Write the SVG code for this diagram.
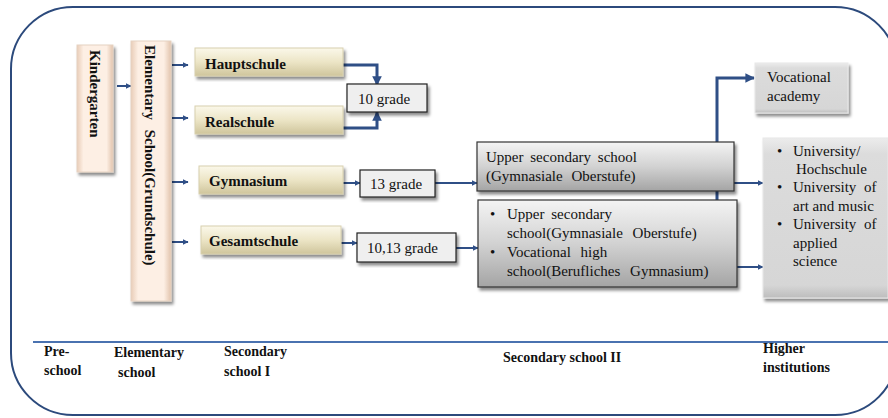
<svg xmlns="http://www.w3.org/2000/svg" width="888" height="418" viewBox="0 0 888 418">
<defs>
<linearGradient id="beige" x1="0" y1="0" x2="0" y2="1">
<stop offset="0" stop-color="#fbf8ea"/><stop offset="0.5" stop-color="#ece5c6"/><stop offset="1" stop-color="#cfc59c"/>
</linearGradient>
<linearGradient id="peach" x1="0" y1="0" x2="1" y2="0">
<stop offset="0" stop-color="#e9cdb8"/><stop offset="0.18" stop-color="#fdefe4"/><stop offset="0.82" stop-color="#fdefe4"/><stop offset="1" stop-color="#e2c4ad"/>
</linearGradient>
<linearGradient id="steel" x1="0" y1="0" x2="0" y2="1">
<stop offset="0" stop-color="#f4f4f4"/><stop offset="0.5" stop-color="#d2d2d2"/><stop offset="1" stop-color="#a4a4a4"/>
</linearGradient>
<linearGradient id="lgray" x1="0" y1="0" x2="0" y2="1">
<stop offset="0" stop-color="#ececec"/><stop offset="0.1" stop-color="#dcdcdc"/><stop offset="0.92" stop-color="#d6d6d6"/><stop offset="1" stop-color="#bdbdbd"/>
</linearGradient>
<filter id="sh" x="-20%" y="-20%" width="140%" height="140%">
<feDropShadow dx="2" dy="3" stdDeviation="1.5" flood-color="#000" flood-opacity="0.45"/>
</filter>
<marker id="ah" viewBox="0 0 10 10" refX="9" refY="5" markerWidth="3" markerHeight="3" orient="auto" markerUnits="strokeWidth">
<path d="M0,0 L10,5 L0,10 z" fill="#2f4f86"/>
</marker>
<marker id="ahb" viewBox="0 0 10 10" refX="9" refY="5" markerWidth="3.2" markerHeight="3.2" orient="auto" markerUnits="strokeWidth">
<path d="M0,0 L10,5 L0,10 z" fill="#2f4f86"/>
</marker>
<style>
.lbl{font-family:"Liberation Serif","Times New Roman",serif;font-size:15px;fill:#111}
.b{font-weight:bold}
.foot{font-family:"Liberation Serif","Times New Roman",serif;font-size:14px;font-weight:bold;fill:#111}
.beige{fill:url(#beige);stroke:#d8d0ae;stroke-width:1;filter:url(#sh)}
.peach{fill:url(#peach);stroke:#e6d2c2;stroke-width:1;filter:url(#sh)}
.grade{fill:#efefef;stroke:#222;stroke-width:1.2;filter:url(#sh)}
.steel{fill:url(#steel);stroke:#333;stroke-width:1.2;filter:url(#sh)}
.lg{fill:url(#lgray);stroke:#e8e8e8;stroke-width:1;filter:url(#sh)}
.c{fill:none;stroke:#2f4f86;stroke-width:2.2}
.cs{fill:none;stroke:#2f4f86;stroke-width:2;marker-end:url(#ah)}
.ct{fill:none;stroke:#2f4f86;stroke-width:3;marker-end:url(#ahb)}
</style>
</defs>
<rect x="11" y="7" width="886" height="408" rx="62" ry="62" fill="#fff" stroke="#2c4a7c" stroke-width="2"/>
<line x1="33" y1="342" x2="888" y2="342" stroke="#4a72b0" stroke-width="2"/>

<g id="connectors">
<path class="cs" d="M117,86 H131"/>
<path class="cs" d="M172,65 H188"/>
<path class="cs" d="M172,118 H188"/>
<path class="cs" d="M172,182 H188"/>
<path class="cs" d="M172,242 H188"/>
<path class="ct" d="M343,65 H377 V85"/>
<path class="ct" d="M343,128 H377 V112"/>
<path class="cs" d="M343,183 H360"/>
<path class="cs" d="M341,243 H357"/>
<path class="cs" d="M435,183 H477"/>
<path class="cs" d="M456,248 H478"/>
<path class="cs" d="M734,183 H763"/>
<path class="cs" d="M737,267 H763"/>
<path class="ct" d="M717,205 V78 H754"/>
</g>

<g id="kindergarten">
<rect class="peach" x="77" y="45" width="36" height="127"/>
<text class="lbl b" transform="translate(90,50) rotate(90)">Kindergarten</text>
</g>
<g id="elementary">
<rect class="peach" x="131" y="41" width="40" height="260"/>
<text class="lbl b" transform="translate(145,45) rotate(90)" word-spacing="6">Elementary School(Grundschule)</text>
</g>
<g id="hauptschule">
<rect class="beige" x="195" y="48" width="148" height="28"/>
<text class="lbl b" x="205" y="69">Hauptschule</text>
</g>
<g id="realschule">
<rect class="beige" x="195" y="106" width="148" height="28"/>
<text class="lbl b" x="205" y="127">Realschule</text>
</g>
<g id="gymnasium">
<rect class="beige" x="199" y="166" width="144" height="28"/>
<text class="lbl b" x="209" y="186">Gymnasium</text>
</g>
<g id="gesamtschule">
<rect class="beige" x="201" y="226" width="140" height="28"/>
<text class="lbl b" x="209" y="246">Gesamtschule</text>
</g>
<g id="grade10">
<rect class="grade" x="347" y="84" width="80" height="28"/>
<text class="lbl" x="358" y="104">10 grade</text>
</g>
<g id="grade13">
<rect class="grade" x="360" y="170" width="75" height="27"/>
<text class="lbl" x="370" y="189">13 grade</text>
</g>
<g id="grade1013">
<rect class="grade" x="357" y="233" width="99" height="29"/>
<text class="lbl" x="367" y="253">10,13 grade</text>
</g>
<g id="upper1">
<rect class="steel" x="477" y="142" width="257" height="49"/>
<text class="lbl" x="486" y="162" word-spacing="3">Upper secondary school</text>
<text class="lbl" x="486" y="181" word-spacing="5">(Gymnasiale Oberstufe)</text>
</g>
<g id="upper2">
<rect class="steel" x="478" y="200" width="259" height="87"/>
<text class="lbl" x="490" y="219">•</text>
<text class="lbl" x="507" y="219" word-spacing="3">Upper secondary</text>
<text class="lbl" x="507" y="238" word-spacing="6">school(Gymnasiale Oberstufe)</text>
<text class="lbl" x="490" y="257">•</text>
<text class="lbl" x="507" y="257" word-spacing="6">Vocational high</text>
<text class="lbl" x="507" y="276" word-spacing="6">school(Berufliches Gymnasium)</text>
</g>
<g id="vocational">
<rect class="lg" x="755" y="63" width="93" height="50"/>
<text class="lbl" x="767" y="82">Vocational</text>
<text class="lbl" x="767" y="101">academy</text>
</g>
<g id="university">
<rect class="lg" x="763" y="138" width="125" height="160"/>
<text class="lbl" x="777" y="156">•</text>
<text class="lbl" x="793" y="156">University/</text>
<text class="lbl" x="796" y="174">Hochschule</text>
<text class="lbl" x="777" y="192">•</text>
<text class="lbl" x="793" y="192" word-spacing="4">University of</text>
<text class="lbl" x="793" y="211">art and music</text>
<text class="lbl" x="777" y="229">•</text>
<text class="lbl" x="793" y="229" word-spacing="4">University of</text>
<text class="lbl" x="793" y="248">applied</text>
<text class="lbl" x="793" y="266">science</text>
</g>
<g id="labels">
<text class="foot" x="44" y="356">Pre-</text>
<text class="foot" x="44" y="375">school</text>
<text class="foot" x="114" y="357">Elementary</text>
<text class="foot" x="118" y="377">school</text>
<text class="foot" x="224" y="356">Secondary</text>
<text class="foot" x="224" y="376">school I</text>
<text class="foot" x="503" y="362">Secondary school II</text>
<text class="foot" x="763" y="353">Higher</text>
<text class="foot" x="763" y="372">institutions</text>
</g>
</svg>
